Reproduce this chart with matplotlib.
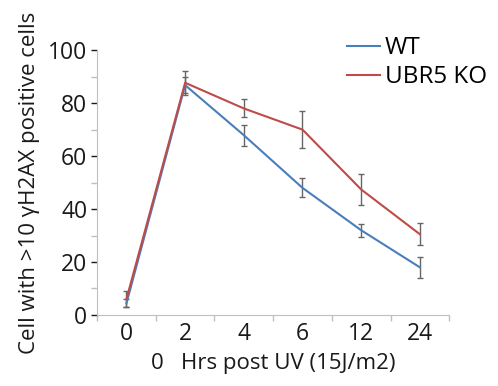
import matplotlib
matplotlib.use('Agg')
import matplotlib.pyplot as plt
import numpy as np

plt.rcParams['font.family'] = ['Open Sans', 'DejaVu Sans']

hours = ['0', '2', '4', '6', '12', '24']
wt = [4.4, 86.8, 67.9, 48.0, 32.0, 18.0]
wt_err = [1.5, 3.0, 3.9, 3.6, 2.5, 4.0]
ko = [6.0, 87.7, 78.0, 70.0, 47.4, 30.5]
ko_err = [3.0, 4.5, 3.4, 7.0, 5.8, 4.2]

fig = plt.figure(figsize=(4.98, 3.86), dpi=100)
ax = fig.add_axes([0.195, 0.184, 0.707, 0.686])

x = np.arange(len(hours))
ax.errorbar(x, wt, yerr=wt_err, fmt='none', ecolor='#666666', elinewidth=1,
            capsize=2, capthick=1, zorder=1)
ax.errorbar(x, ko, yerr=ko_err, fmt='none', ecolor='#666666', elinewidth=1,
            capsize=2, capthick=1, zorder=1)
ax.plot(x, wt, color='#4a7ebb', lw=1.5, label='WT', zorder=2)
ax.plot(x, ko, color='#be4b48', lw=1.5, label='UBR5 KO', zorder=2)

ax.set_xlim(-0.5, 5.5)
ax.set_ylim(0, 100)
ax.set_xticks(x)
ax.set_xticklabels(hours)
ax.set_xticks(np.arange(-0.5, 6, 1), minor=True)
ax.tick_params(axis='x', which='major', length=0, labelsize=16.5, pad=5, colors='#1a1a1a')
ax.tick_params(axis='x', which='minor', length=4, color='#bfbfbf', width=1)
ax.set_yticks(np.arange(0, 101, 20))
ax.set_yticks(np.arange(10, 100, 20), minor=True)
ax.tick_params(axis='y', which='both', length=4, color='#bfbfbf', width=1)
ax.tick_params(axis='y', which='major', labelsize=16.5, pad=3, colors='#1a1a1a')

for s in ['top', 'right']:
    ax.spines[s].set_visible(False)
for s in ['left', 'bottom']:
    ax.spines[s].set_color('#bfbfbf')

ax.set_xlabel('0   Hrs post UV (15J/m2)', fontsize=16, color='#1a1a1a', labelpad=5)
ax.set_ylabel('Cell with >10 γH2AX positive cells', fontsize=16, color='#1a1a1a', labelpad=6)

ax.legend(loc='upper right', bbox_to_anchor=(1.17, 1.135), frameon=False,
          fontsize=17.5, handlelength=1.35, handletextpad=0.2, labelspacing=0.2)

fig.savefig('out.png', dpi=100)
